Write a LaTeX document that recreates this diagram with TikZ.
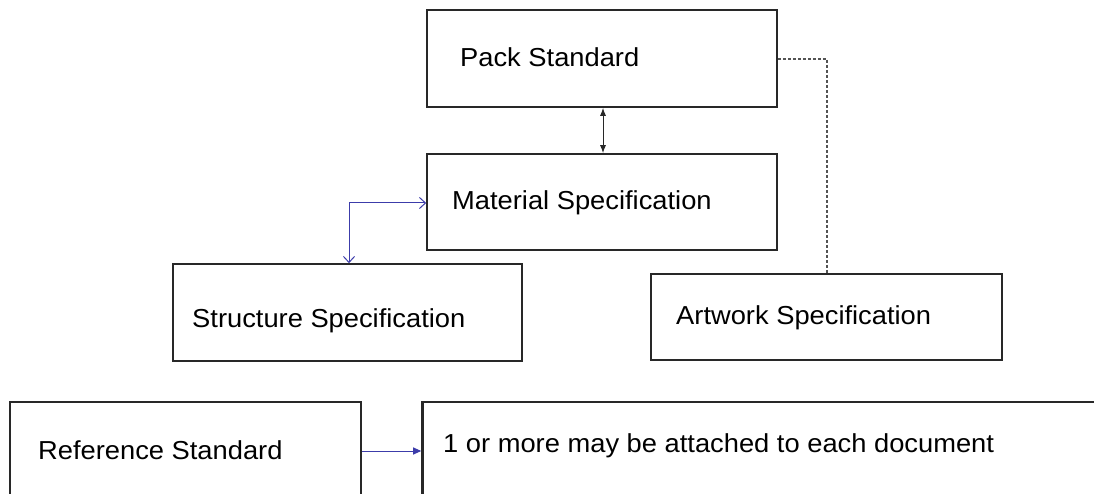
\documentclass[tikz,border=0pt]{standalone}
\usepackage{fontspec}
\setmainfont[FakeStretch=1.05]{Liberation Sans}
\usetikzlibrary{arrows.meta}
\definecolor{boxline}{RGB}{40,40,40}
\definecolor{arrowblue}{RGB}{60,60,170}
\begin{document}
\begin{tikzpicture}[x=1pt,y=-1pt,
  box/.style={draw=boxline,line width=1.6pt,rectangle,inner sep=0pt},
  lbl/.style={anchor=west,inner sep=0pt,font=\fontsize{26}{30}\selectfont},
  bluearrow/.style={draw=arrowblue,line width=1pt},
  dashline/.style={draw=boxline!80,line width=1.2pt,dash pattern=on 3pt off 2pt}]
\useasboundingbox (0,0) rectangle (1094,494);
\clip (0,0) rectangle (1094,494);
% boxes
\node[box,minimum width=350pt,minimum height=97pt] (pack) at (602,58.5) {};
\node[box,minimum width=350pt,minimum height=96pt] (mat) at (602,202) {};
\node[box,minimum width=349pt,minimum height=97pt] (struc) at (347.5,312.5) {};
\node[box,minimum width=351pt,minimum height=86pt] (art) at (826.5,317) {};
\node[box,minimum width=351pt,minimum height=120pt] (ref) at (185.5,462) {};
\node[box,minimum width=700pt,minimum height=120pt] (note) at (772,462) {};
\draw[boxline,line width=3pt] ([xshift=0.8pt]note.north west) -- ([xshift=0.8pt]note.south west);
% labels
\node[lbl] (packt) at (460,57) {Pack Standard};
\node[lbl] (matt) at (452,203) {Material Specification};
\node[lbl] (struct) at (192,321) {Structure Specification};
\node[lbl] (artt) at (676,318) {Artwork Specification};
\node[lbl] (reft) at (38,450) {Reference Standard};
\node[lbl] (notet) at (443,446) {1 or more may be attached to each document};
% connectors
\draw[boxline,line width=1pt,{Latex[length=8pt,width=6pt]}-{Latex[length=8pt,width=6pt]}] (pack.south -| 603,0) -- (mat.north -| 603,0);
\coordinate (bc) at (349,203);
\draw[bluearrow,{Straight Barb[length=6pt,width=11pt]}-{Straight Barb[length=6pt,width=11pt]}] (mat.west |- bc) -- (bc) -- (struc.north -| bc);
\draw[bluearrow,-{Triangle[length=8pt,width=7pt]}] (ref.east |- 0,451) -- (note.west |- 0,451);
\coordinate (dc) at (827,59);
\draw[dashline] (pack.east |- dc) -- (dc) -- (art.north -| dc);
\end{tikzpicture}
\end{document}
